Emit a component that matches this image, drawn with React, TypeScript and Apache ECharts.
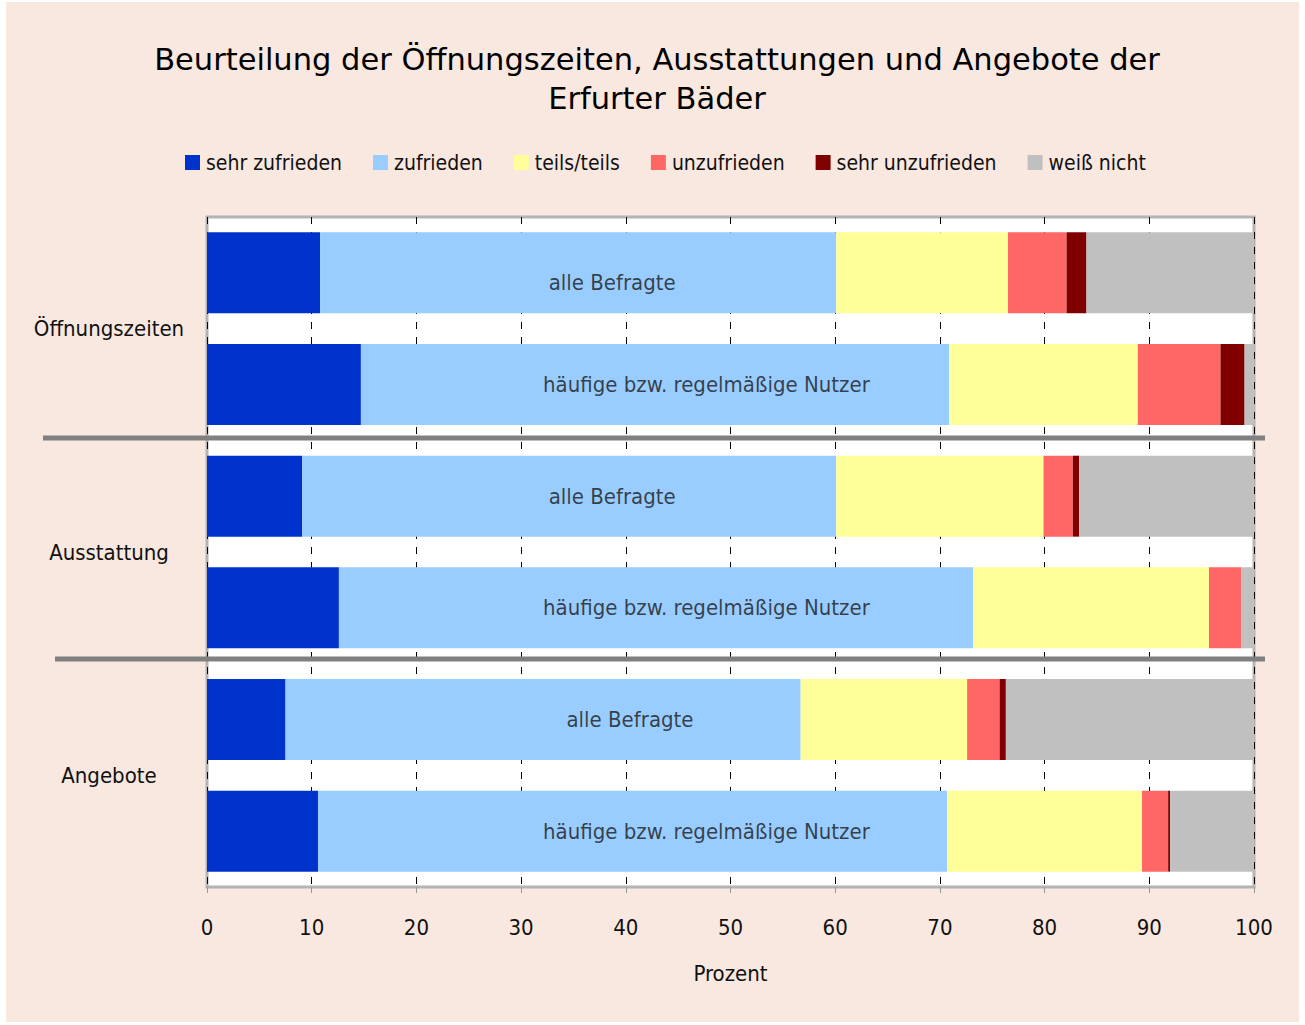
import React, { useEffect, useRef } from "react";
import * as echarts from "echarts";

const rows = [
  "Öffnungszeiten – alle Befragte",
  "Öffnungszeiten – häufige bzw. regelmäßige Nutzer",
  "Ausstattung – alle Befragte",
  "Ausstattung – häufige bzw. regelmäßige Nutzer",
  "Angebote – alle Befragte",
  "Angebote – häufige bzw. regelmäßige Nutzer",
];
const groups = ["Öffnungszeiten", "Ausstattung", "Angebote"];
const rowLabels = [
  "alle Befragte",
  "häufige bzw. regelmäßige Nutzer",
  "alle Befragte",
  "häufige bzw. regelmäßige Nutzer",
  "alle Befragte",
  "häufige bzw. regelmäßige Nutzer",
];
const rowLabelX = [38.7, 47.7, 38.7, 47.7, 40.4, 47.7];

const seriesNames = ["sehr zufrieden", "zufrieden", "teils/teils", "unzufrieden", "sehr unzufrieden", "weiß nicht"];
const sehrZufrieden = [10.8, 14.7, 9.1, 12.6, 7.5, 10.6];
const zufrieden = [49.3, 56.2, 51.0, 60.6, 49.2, 60.1];
const teilsTeils = [16.4, 18.0, 19.8, 22.5, 15.9, 18.6];
const unzufrieden = [5.6, 7.9, 2.8, 3.1, 3.1, 2.5];
const sehrUnzufrieden = [1.9, 2.3, 0.6, 0, 0.6, 0.2];
const weissNicht = [16.0, 0.9, 16.7, 1.2, 23.7, 8.0];
const xTicks = [0, 10, 20, 30, 40, 50, 60, 70, 80, 90, 100];

const colors = ["#0033cc", "#99ccff", "#ffff99", "#ff6666", "#800000", "#c0c0c0"];
const FONT = "'DejaVu Sans Condensed', 'DejaVu Sans', sans-serif";

export default function App() {
  const ref = useRef<HTMLDivElement>(null);
  useEffect(() => {
    const chart = echarts.init(ref.current!, null, { renderer: "svg" });
    const values = [sehrZufrieden, zufrieden, teilsTeils, unzufrieden, sehrUnzufrieden, weissNicht];
    const barSeries = seriesNames.map((name, i) => ({
      name,
      type: "bar",
      stack: "total",
      yAxisIndex: 0,
      barCategoryGap: "27.5%",
      itemStyle: { color: colors[i] },
      data: values[i],
      z: 2,
    }));
    chart.setOption({
      animation: false,
      backgroundColor: "#ffffff",
      textStyle: { fontFamily: FONT },
      title: {
        text: "Beurteilung der Öffnungszeiten, Ausstattungen und Angebote der\nErfurter Bäder",
        left: 652,
        textAlign: "center",
        top: 35,
        textStyle: {
          fontFamily: "'DejaVu Sans', sans-serif",
          fontSize: 30.5,
          fontWeight: "normal",
          color: "#000",
          lineHeight: 39,
        },
      },
      legend: {
        data: seriesNames,
        left: 180,
        top: 147,
        itemWidth: 15,
        itemHeight: 15,
        itemGap: 31,
        icon: "rect",
        textStyle: { fontFamily: FONT, fontSize: 21, color: "#111", padding: [0, 0, 0, 1] },
      },
      grid: {
        left: 207,
        right: 51,
        top: 217,
        bottom: 138,
        show: true,
        containLabel: false,
        outerBoundsMode: "none",
        backgroundColor: "#ffffff",
        borderColor: "#b4b4b4",
        borderWidth: 3,
      },
      xAxis: {
        type: "value",
        min: 0,
        max: 100,
        interval: 10,
        axisLine: { show: false },
        axisTick: { show: true, length: 6, lineStyle: { color: "#999" } },
        splitLine: { show: true, lineStyle: { color: "#000", type: [7, 8], width: 1 } },
        axisLabel: {
          fontFamily: FONT,
          fontSize: 22,
          color: "#111",
          margin: 29,
          formatter: (v: number) => (xTicks.includes(v) ? String(v) : ""),
        },
        name: "Prozent",
        nameLocation: "middle",
        nameGap: 75,
        nameTextStyle: { fontFamily: FONT, fontSize: 22, color: "#111" },
      },
      yAxis: [
        {
          type: "category",
          data: rows,
          inverse: true,
          axisLine: { show: false },
          axisTick: { show: false },
          axisLabel: { show: false },
        },
        {
          type: "category",
          data: groups,
          inverse: true,
          position: "left",
          axisLine: { show: false },
          axisTick: { show: false },
          splitLine: { show: false },
          axisLabel: {
            fontFamily: FONT,
            fontSize: 22,
            color: "#111",
            align: "center",
            margin: 98,
          },
        },
      ],
      series: [
        ...barSeries,
        {
          name: "labels",
          type: "scatter",
          yAxisIndex: 0,
          symbolSize: 0,
          silent: true,
          z: 5,
          data: rowLabelX.map((x, i) => ({
            value: [x, i],
            label: i === 0 ? { offset: [0, 10] } : undefined,
          })),
          label: {
            show: true,
            position: "inside",
            fontFamily: FONT,
            fontSize: 22,
            color: "#1a1a1a",
            formatter: (p: any) => rowLabels[p.dataIndex],
          },
        },
      ],
      graphic: [
        {
          type: "rect",
          z: -10,
          silent: true,
          shape: { x: 6, y: 2, width: 1293, height: 1020 },
          style: { fill: "#f9e8e0" },
        },
        {
          type: "line",
          z: 100,
          silent: true,
          shape: { x1: 43, y1: 438, x2: 1265, y2: 438 },
          style: { stroke: "#808080", lineWidth: 5 },
        },
        {
          type: "line",
          z: 100,
          silent: true,
          shape: { x1: 55, y1: 659, x2: 1265, y2: 659 },
          style: { stroke: "#808080", lineWidth: 5 },
        },
      ],
    });
    return () => chart.dispose();
  }, []);
  return <div ref={ref} style={{ position: "absolute", left: 0, top: 0, width: 1305, height: 1025 }} />;
}
